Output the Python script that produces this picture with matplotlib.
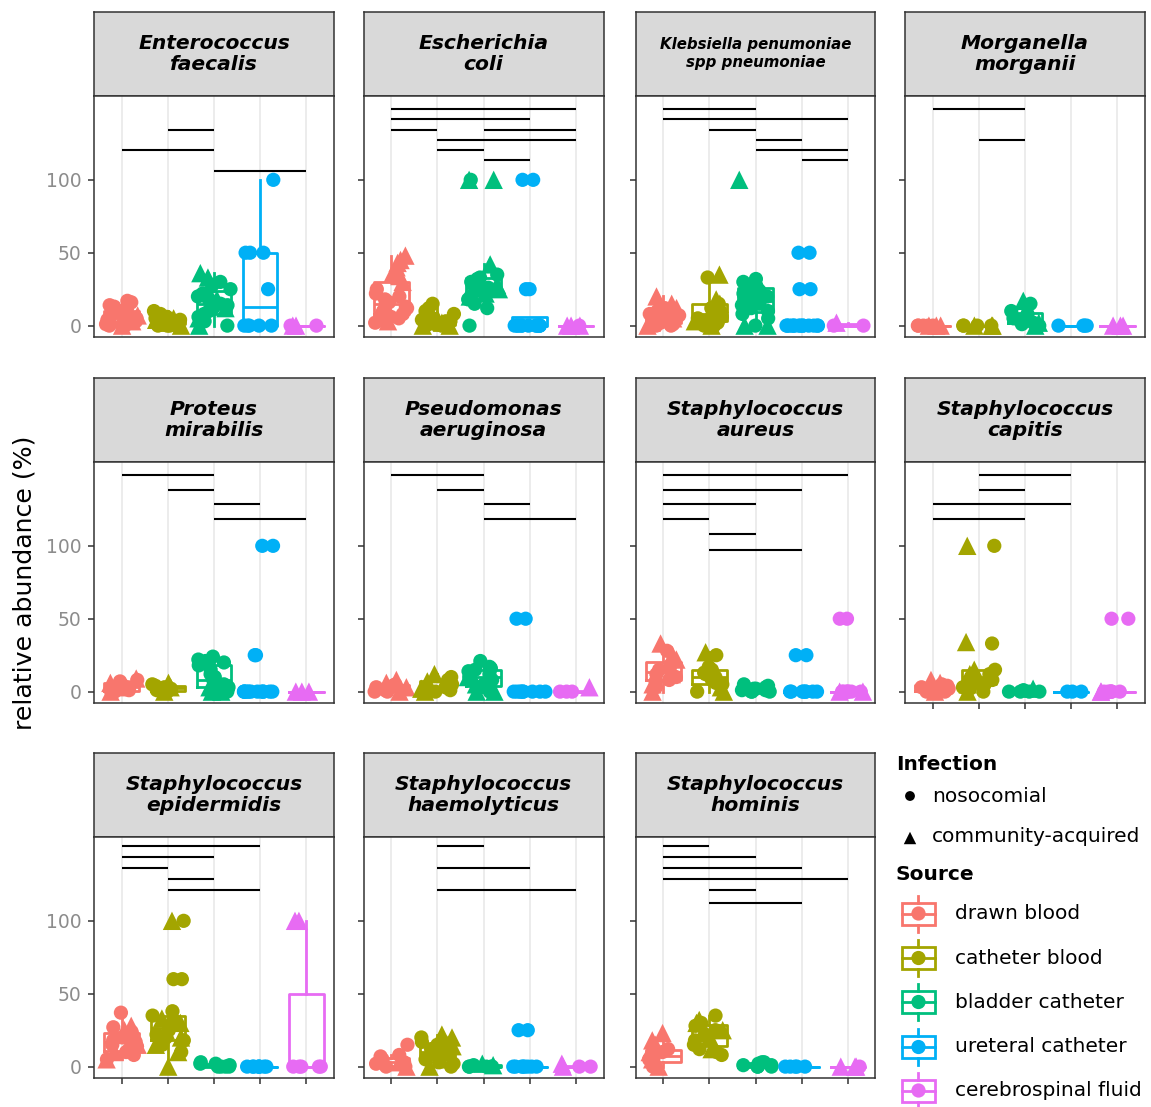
import numpy as np
import matplotlib
matplotlib.use("Agg")
import matplotlib.pyplot as plt
from matplotlib.patches import Rectangle

# ---------------------------------------------------------------- data
SOURCES = ["drawn blood", "catheter blood", "bladder catheter",
           "ureteral catheter", "cerebrospinal fluid"]
INFECTIONS = ["nosocomial", "community-acquired"]

# relative abundance (%) per source, split by infection type
# order inside each list: drawn blood, catheter blood, bladder catheter,
# ureteral catheter, cerebrospinal fluid
e_faecalis_noso = [[0, 0, 0, 1, 2, 3, 4, 5, 5, 8, 9, 10, 12, 13, 14, 16, 17],
                   [0, 0, 0, 1, 1, 2, 3, 4, 5, 6, 8, 10],
                   [0, 3, 6, 8, 10, 12, 14, 15, 18, 20, 22, 25, 28, 30],
                   [0, 0, 0, 0, 0, 25, 50, 50, 50, 100],
                   [0, 0]]
e_faecalis_comm = [[0, 3, 6, 7], [0, 2, 4, 5, 6], [0, 5, 12, 18, 24, 33, 36], [], [0, 0]]
e_faecalis_pairs = [(2, 3), (1, 3), (3, 5)]

e_coli_noso = [[2, 4, 5, 6, 8, 8, 10, 10, 12, 13, 15, 16, 18, 20, 22, 25],
               [0, 0, 0, 1, 2, 3, 3, 4, 5, 6, 8, 10, 12, 15],
               [0, 12, 15, 18, 20, 22, 24, 25, 26, 28, 30, 32, 33, 35, 100],
               [0, 0, 0, 0, 0, 0, 0, 0, 0, 0, 0, 0, 25, 25, 100, 100],
               [0]]
e_coli_comm = [[3, 5, 30, 34, 36, 40, 43, 45, 48],
               [0, 0, 2, 3, 5],
               [20, 22, 25, 28, 42, 100, 100],
               [],
               [0, 0, 0]]
e_coli_pairs = [(1, 5), (1, 4), (1, 2), (3, 5), (2, 5), (2, 3), (3, 4)]

k_pneumoniae_noso = [[0, 0, 1, 2, 3, 4, 5, 6, 7, 8, 10, 12],
                     [0, 0, 2, 3, 5, 6, 8, 10, 12, 15, 33],
                     [0, 5, 8, 10, 12, 14, 15, 16, 18, 20, 22, 24, 25, 27, 28, 30, 32],
                     [0, 0, 0, 0, 0, 0, 0, 0, 0, 0, 0, 0, 0, 0, 25, 25, 50, 50],
                     [0, 0]]
k_pneumoniae_comm = [[0, 2, 5, 8, 10, 12, 15, 20],
                     [0, 3, 10, 15, 18, 35],
                     [0, 0, 100],
                     [],
                     [2]]
k_pneumoniae_pairs = [(1, 3), (1, 5), (2, 3), (3, 4), (3, 5), (4, 5)]

m_morganii_noso = [[0, 0, 0, 0, 0], [0, 0, 0, 0], [0, 1, 2, 3, 5, 8, 10, 15],
                   [0, 0, 0, 0], []]
m_morganii_comm = [[0, 0, 0], [0, 0, 0], [0, 2, 17], [], [0, 0, 0]]
m_morganii_pairs = [(1, 3), (2, 3)]

p_mirabilis_noso = [[0, 0, 1, 2, 3, 5, 7, 8],
                    [0, 0, 1, 2, 3, 4, 5],
                    [0, 2, 3, 5, 8, 10, 12, 15, 18, 20, 21, 22, 24],
                    [0, 0, 0, 0, 0, 0, 0, 0, 0, 0, 0, 0, 0, 25, 25, 100, 100],
                    []]
p_mirabilis_comm = [[0, 3, 6, 9], [0, 3, 6], [0, 0, 3, 6], [], [0, 0, 0]]
p_mirabilis_pairs = [(1, 3), (2, 3), (3, 4), (3, 5)]

p_aeruginosa_noso = [[0, 0, 1, 2, 3, 4, 5],
                     [0, 0, 1, 3, 5, 8, 10],
                     [0, 3, 5, 8, 10, 12, 14, 15, 16, 17, 21],
                     [0, 0, 0, 0, 0, 0, 0, 0, 0, 50, 50],
                     [0, 0, 0]]
p_aeruginosa_comm = [[0, 3, 6, 8], [0, 2, 7, 12], [0, 0, 5, 10], [], [3]]
p_aeruginosa_pairs = [(1, 3), (2, 3), (3, 4), (3, 5)]

s_aureus_noso = [[3, 7, 8, 10, 12, 15, 18, 20, 28],
                 [0, 5, 6, 8, 10, 12, 13, 15, 17, 25],
                 [0, 0, 0, 1, 1, 2, 2, 3, 4, 5],
                 [0, 0, 0, 0, 0, 0, 0, 0, 25, 25],
                 [0, 0, 0, 0, 0, 0, 0, 50, 50]]
s_aureus_comm = [[0, 5, 12, 18, 22, 25, 33], [0, 3, 27], [], [], [0, 0]]
s_aureus_pairs = [(1, 5), (1, 4), (1, 3), (1, 2), (2, 3), (2, 4)]

s_capitis_noso = [[0, 0, 1, 2, 3, 4, 5],
                  [0, 2, 3, 5, 6, 8, 10, 12, 15, 33, 100],
                  [0, 0, 0, 0, 1],
                  [0, 0, 0],
                  [0, 0, 0, 0, 0, 0, 0, 50, 50]]
s_capitis_comm = [[0, 3, 6, 8], [0, 5, 12, 15, 34, 100], [2], [], [0, 0]]
s_capitis_pairs = [(2, 4), (2, 3), (1, 4), (1, 3)]

s_epidermidis_noso = [[5, 8, 10, 12, 14, 15, 17, 18, 20, 22, 24, 27, 37],
                      [10, 15, 18, 20, 22, 25, 28, 30, 32, 35, 38, 60, 60, 100],
                      [0, 0, 0, 1, 2, 3, 2, 0],
                      [0, 0, 0, 0, 0, 0, 0, 0],
                      [0, 0, 0, 0, 0]]
s_epidermidis_comm = [[5, 10, 15, 20, 25, 28],
                      [0, 10, 15, 20, 25, 30, 33, 100],
                      [], [], [100, 100]]
s_epidermidis_pairs = [(1, 4), (1, 3), (1, 2), (2, 3), (2, 4)]

s_haemolyticus_noso = [[0, 0, 1, 2, 3, 5, 7, 8, 15],
                       [0, 2, 3, 5, 8, 10, 12, 15, 17, 20],
                       [0, 0, 0, 0, 0, 1],
                       [0, 0, 0, 0, 0, 0, 0, 0, 25, 25],
                       [0, 0]]
s_haemolyticus_comm = [[0, 3], [0, 5, 10, 14, 15, 20, 22], [1, 2], [], [0, 2]]
s_haemolyticus_pairs = [(2, 3), (2, 4), (2, 5)]

s_hominis_noso = [[0, 2, 3, 5, 6, 8, 10, 12],
                  [8, 10, 12, 15, 18, 20, 22, 25, 28, 30, 35],
                  [0, 0, 0, 1, 2, 3, 3, 1],
                  [0, 0, 0, 0, 0],
                  [0]]
s_hominis_comm = [[0, 5, 10, 15, 18, 23], [12, 20, 25, 30, 32], [], [], [0, 0, 0]]
s_hominis_pairs = [(1, 2), (1, 3), (1, 4), (1, 5), (2, 3), (2, 4)]

PANELS = [
    ("Enterococcus\nfaecalis", e_faecalis_noso, e_faecalis_comm, e_faecalis_pairs),
    ("Escherichia\ncoli", e_coli_noso, e_coli_comm, e_coli_pairs),
    ("Klebsiella penumoniae\nspp pneumoniae", k_pneumoniae_noso, k_pneumoniae_comm, k_pneumoniae_pairs),
    ("Morganella\nmorganii", m_morganii_noso, m_morganii_comm, m_morganii_pairs),
    ("Proteus\nmirabilis", p_mirabilis_noso, p_mirabilis_comm, p_mirabilis_pairs),
    ("Pseudomonas\naeruginosa", p_aeruginosa_noso, p_aeruginosa_comm, p_aeruginosa_pairs),
    ("Staphylococcus\naureus", s_aureus_noso, s_aureus_comm, s_aureus_pairs),
    ("Staphylococcus\ncapitis", s_capitis_noso, s_capitis_comm, s_capitis_pairs),
    ("Staphylococcus\nepidermidis", s_epidermidis_noso, s_epidermidis_comm, s_epidermidis_pairs),
    ("Staphylococcus\nhaemolyticus", s_haemolyticus_noso, s_haemolyticus_comm, s_haemolyticus_pairs),
    ("Staphylococcus\nhominis", s_hominis_noso, s_hominis_comm, s_hominis_pairs),
]

# ---------------------------------------------------------------- layout
W, H = 1151, 1107
DPI = 100
COLORS = ["#F8766D", "#A3A500", "#00BF7D", "#00B0F6", "#E76BF3"]
BORDER = "#333333"
STRIP_BG = "#D9D9D9"
GRID = "#EBEBEB"
TICK_TEXT = "#8C8C8C"

COL_LEFT = [94, 363.5, 635.5, 905]
PANEL_W = 240
ROW_TOP = [96, 462, 837]
PANEL_H = 241
STRIP_H = 84
YLIM = (-7.8, 157.5)
XLIM = (0.4, 5.6)

# bracket heights (data units), one per comparison, panel by panel
BRACKET_Y = [
    [134.5, 120.3, 106.0],
    [148.6, 141.6, 134.5, 134.5, 127.4, 120.3, 113.5],
    [148.6, 141.6, 134.5, 127.4, 120.3, 113.5],
    [148.6, 127.4],
    [148.7, 138.4, 128.5, 118.2],
    [148.7, 138.4, 128.5, 118.2],
    [148.7, 138.4, 128.5, 118.2, 108.3, 97.1],
    [148.7, 138.4, 128.5, 118.2],
    [151.1, 143.5, 136.2, 128.6, 120.9],
    [151.1, 136.0, 120.9],
    [151.1, 143.5, 136.0, 128.6, 120.9, 112.0],
]

# panels that carry x tick marks (bottom of each column)
BOTTOM_PANELS = {7, 8, 9, 10}

CIRCLE_S = 105
TRI_S = 175
BOX_LW = 2.0
JITTER = 0.36


def rect(x0, y0, x1, y1):
    """Pixel box (top-left origin) -> figure fraction rectangle."""
    return [x0 / W, 1 - y1 / H, (x1 - x0) / W, (y1 - y0) / H]


fig = plt.figure(figsize=(W / DPI, H / DPI), dpi=DPI)
fig.patch.set_facecolor("white")
rng = np.random.default_rng(11)

for idx, (title, noso, comm, pairs) in enumerate(PANELS):
    r, c = divmod(idx, 4)
    left = COL_LEFT[c]
    top = ROW_TOP[r]

    # facet strip
    sax = fig.add_axes(rect(left, top - STRIP_H, left + PANEL_W, top))
    sax.set_facecolor(STRIP_BG)
    sax.set_xticks([])
    sax.set_yticks([])
    for sp in sax.spines.values():
        sp.set_color(BORDER)
        sp.set_linewidth(1.1)
    small = "Klebsiella" in title
    sax.text(0.5, 0.5, title, ha="center", va="center", transform=sax.transAxes,
             fontsize=10.8 if small else 14.6, fontweight="bold", fontstyle="italic",
             linespacing=1.25 if small else 1.1, color="black")

    # panel
    ax = fig.add_axes(rect(left, top, left + PANEL_W, top + PANEL_H))
    ax.set_xlim(*XLIM)
    ax.set_ylim(*YLIM)
    ax.set_xticks(range(1, 6))
    ax.set_yticks([0, 50, 100])
    ax.grid(axis="x", color=GRID, lw=1.3)
    ax.set_axisbelow(True)
    for sp in ax.spines.values():
        sp.set_color(BORDER)
        sp.set_linewidth(1.1)
    ax.tick_params(axis="y", length=4, width=1.1, color=BORDER, pad=5,
                   labelsize=13.5, labelcolor=TICK_TEXT)
    ax.tick_params(axis="x", labelbottom=False,
                   length=4 if idx in BOTTOM_PANELS else 0, width=1.1, color=BORDER)
    if c != 0:
        ax.tick_params(axis="y", labelleft=False)

    for k in range(5):
        col = COLORS[k]
        vals = list(noso[k]) + list(comm[k])
        if vals:
            ax.boxplot([vals], positions=[k + 1], widths=0.75, whis=1.5,
                       showfliers=False, showcaps=False, manage_ticks=False,
                       boxprops=dict(color=col, lw=BOX_LW),
                       whiskerprops=dict(color=col, lw=BOX_LW),
                       medianprops=dict(color=col, lw=BOX_LW), zorder=2)
        if noso[k]:
            xj = k + 1 + rng.uniform(-JITTER, JITTER, len(noso[k]))
            ax.scatter(xj, noso[k], marker="o", s=CIRCLE_S, color=col,
                       edgecolors="none", zorder=3)
        if comm[k]:
            xj = k + 1 + rng.uniform(-JITTER, JITTER, len(comm[k]))
            ax.scatter(xj, comm[k], marker="^", s=TRI_S, color=col,
                       edgecolors="none", zorder=3)

    # significance brackets
    for (a, b), yb in zip(pairs, BRACKET_Y[idx]):
        ax.plot([a, b], [yb, yb], color="black", lw=1.5, solid_capstyle="butt", zorder=4)

fig.text(25 / W, 1 - 583 / H, "relative abundance (%)", rotation=90,
         ha="center", va="center", fontsize=18.2, color="black")

# ---------------------------------------------------------------- legend
lax = fig.add_axes([0, 0, 1, 1])
lax.set_xlim(0, W)
lax.set_ylim(H, 0)
lax.axis("off")

lax.text(896, 765, "Infection", fontsize=14.5, fontweight="bold", va="center", ha="left")
lax.scatter([910], [796], marker="o", s=50, color="black", edgecolors="none")
lax.text(932, 796, INFECTIONS[0], fontsize=14.5, va="center", ha="left")
lax.scatter([910], [838], marker="^", s=80, color="black", edgecolors="none")
lax.text(932, 836, INFECTIONS[1], fontsize=14.5, va="center", ha="left")

lax.text(896, 874, "Source", fontsize=14.5, fontweight="bold", va="center", ha="left")
key_y = [913.5, 958, 1002, 1047, 1090.5]
for name, col, yk in zip(SOURCES, COLORS, key_y):
    cx = 918.5
    lax.add_patch(Rectangle((902, yk - 11), 33, 22, fill=False, edgecolor=col, lw=BOX_LW))
    lax.plot([902, 935], [yk, yk], color=col, lw=BOX_LW)
    lax.plot([cx, cx], [yk - 18, yk - 11], color=col, lw=BOX_LW)
    lax.plot([cx, cx], [yk + 11, yk + 18], color=col, lw=BOX_LW)
    lax.scatter([cx], [yk], marker="o", s=CIRCLE_S, color=col, edgecolors="none", zorder=3)
    lax.text(955, yk, name, fontsize=14.5, va="center", ha="left")

fig.savefig("out.png", dpi=DPI, facecolor="white")
